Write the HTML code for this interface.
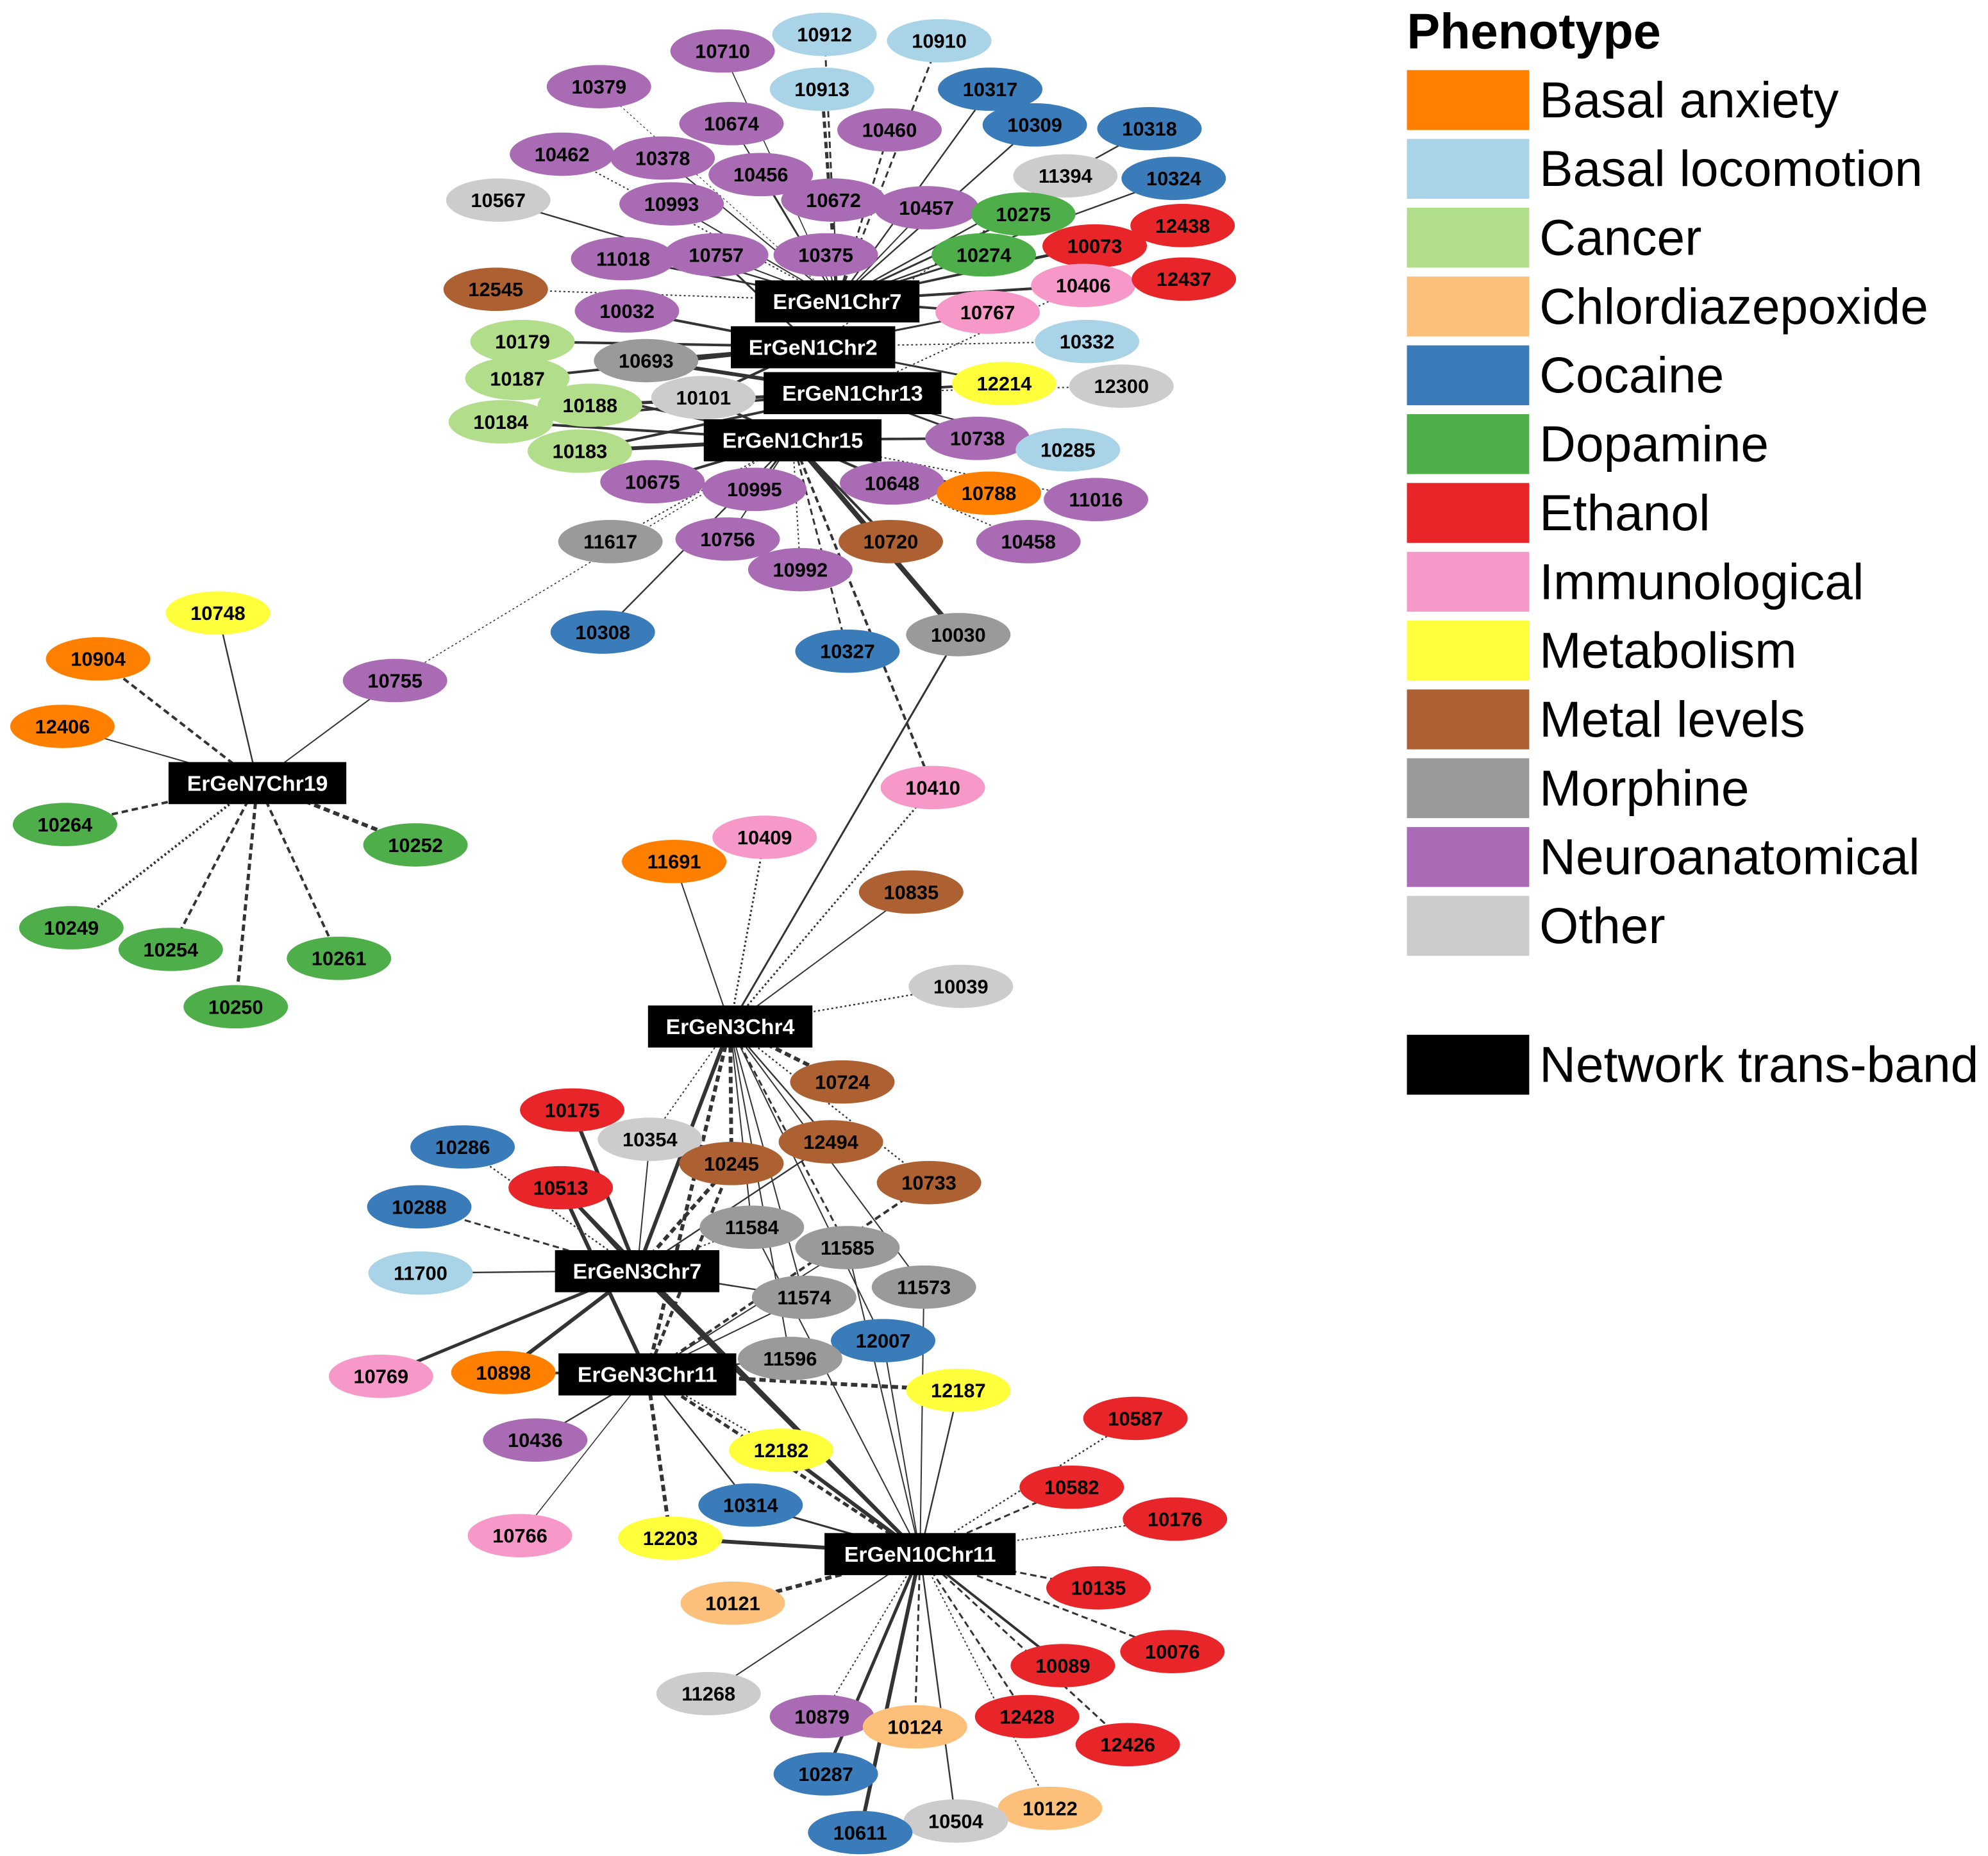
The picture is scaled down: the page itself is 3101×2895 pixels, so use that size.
<!DOCTYPE html>
<html><head><meta charset="utf-8">
<style>
html,body{margin:0;padding:0;background:#fff;}
svg{display:block;}
text{font-family:"Liberation Sans",Arial,sans-serif;}
</style></head>
<body>
<svg id="chart" width="3101" height="2895" viewBox="0 0 1560 1456.4" preserveAspectRatio="none" xmlns="http://www.w3.org/2000/svg">
<g id="edges"></g>
<g id="nodes"></g>
<g id="legend"></g>
</svg>
<script>
const phenotypes = ["Basal anxiety","Basal locomotion","Cancer","Chlordiazepoxide","Cocaine","Dopamine","Ethanol","Immunological","Metabolism","Metal levels","Morphine","Neuroanatomical","Other"];
const phenoColors = ["#ff8000","#a9d3e6","#b2dd8b","#fdc07a","#3a7cb9","#4eae4a","#e8262a","#f699c8","#ffff3c","#ad6132","#9a9a9a","#a96bb3","#cccccc"];
const phenoCodes = ["BA","BL","Ca","Ch","C","D","E","I","Me","ML","M","N","O"];

const hubNames = ["ErGeN1Chr7","ErGeN1Chr2","ErGeN1Chr13","ErGeN1Chr15","ErGeN7Chr19","ErGeN3Chr4","ErGeN3Chr7","ErGeN3Chr11","ErGeN10Chr11"];
const hubX = [657,638,669,622,202,573,500,508,722];
const hubY = [236,272,308,345,614,805,997,1078,1219];

const nodeIds = ["10710","10912","10910","10379","10913","10317","10674","10460","10309","10318","10462","10378","10456","11394","10324","10567","10993","10672","10457","10275","10073","12438","11018","10757","10375","10274","10406","12437","12545","10032","10767","10179","10332","10693","10187","12214","12300","10101","10188","10184","10738","10285","10183","10675","10995","10648","10788","11016","11617","10756","10720","10458","10992","10308","10030","10327","10748","10904","10755","12406","10264","10252","10249","10254","10261","10250","10410","10409","11691","10835","10039","10724","10175","10354","12494","10286","10245","10513","10733","10288","11584","11585","11700","11573","11574","12007","11596","10769","10898","12187","10587","10436","12182","10582","10314","10176","12203","10766","10135","10121","10076","10089","11268","10879","10124","12428","12426","10287","10122","10504","10611"];
const nodePheno = ["N","BL","BL","N","BL","C","N","N","C","C","N","N","N","O","C","O","N","N","N","D","E","E","N","N","N","D","I","E","ML","N","I","Ca","BL","M","Ca","Me","O","O","Ca","Ca","N","BL","Ca","N","N","N","BA","N","M","N","ML","N","N","C","M","C","Me","BA","N","BA","D","D","D","D","D","D","I","I","BA","ML","O","ML","E","O","ML","C","ML","E","ML","C","M","M","BL","M","M","C","M","I","BA","Me","E","N","Me","E","C","E","Me","I","E","Ch","E","E","O","N","Ch","E","E","C","Ch","O","C"];
const nodeX = [567,647,737,470,645,777,574,698,812,902,441,520,597,836,921,391,527,654,727,803,859,928,489,562,648,772,850,929,389,492,775,410,853,507,406,788,880,552,463,393,767,838,455,512,592,700,776,860,479,571,699,807,628,473,752,665,171,77,310,49,51,326,56,134,266,185,732,600,529,715,754,661,449,510,652,363,574,440,729,329,590,665,330,725,631,693,620,299,395,752,891,420,613,841,589,922,526,408,862,575,920,834,556,645,718,806,885,648,824,750,675];
const nodeY = [40,27,32,68,70,70,97,102,98,101,121,124,137,138,140,157,160,157,163,168,193,177,203,200,200,200,224,219,227,244,245,268,268,283,297,301,303,312,318,331,344,353,354,378,384,379,387,392,425,423,425,425,447,496,498,511,481,517,534,570,647,663,728,745,752,790,618,657,676,700,774,849,871,894,896,900,913,932,928,947,963,979,999,1010,1018,1052,1066,1080,1077,1091,1113,1130,1138,1167,1181,1192,1207,1205,1246,1258,1296,1307,1329,1347,1355,1347,1369,1392,1419,1429,1438];

// edges: source, target, style (s=solid,d=dashed,o=dotted), width
const edgeSrc = ["ErGeN1Chr7","ErGeN1Chr7","ErGeN1Chr7","ErGeN1Chr7","ErGeN1Chr7","ErGeN1Chr7","ErGeN1Chr7","ErGeN1Chr7","ErGeN1Chr7","ErGeN1Chr7","ErGeN1Chr7","ErGeN1Chr7","ErGeN1Chr7","ErGeN1Chr7","ErGeN1Chr7","ErGeN1Chr7","ErGeN1Chr7","ErGeN1Chr7","ErGeN1Chr7","ErGeN1Chr7","ErGeN1Chr7","ErGeN1Chr7","ErGeN1Chr7","ErGeN1Chr7","ErGeN1Chr7","ErGeN1Chr7","ErGeN1Chr7","ErGeN1Chr7","ErGeN1Chr7",
"ErGeN1Chr2","ErGeN1Chr2","ErGeN1Chr2","ErGeN1Chr2","ErGeN1Chr2","ErGeN1Chr2","ErGeN1Chr2","ErGeN1Chr2","ErGeN1Chr2","ErGeN1Chr2",
"ErGeN1Chr13","ErGeN1Chr13","ErGeN1Chr13","ErGeN1Chr13","ErGeN1Chr13","ErGeN1Chr13","ErGeN1Chr13","ErGeN1Chr13","ErGeN1Chr13",
"ErGeN1Chr15","ErGeN1Chr15","ErGeN1Chr15","ErGeN1Chr15","ErGeN1Chr15","ErGeN1Chr15","ErGeN1Chr15","ErGeN1Chr15","ErGeN1Chr15","ErGeN1Chr15","ErGeN1Chr15","ErGeN1Chr15","ErGeN1Chr15","ErGeN1Chr15","ErGeN1Chr15","ErGeN1Chr15","ErGeN1Chr15","ErGeN1Chr15","ErGeN1Chr15","ErGeN1Chr15",
"ErGeN7Chr19","ErGeN7Chr19","ErGeN7Chr19","ErGeN7Chr19","ErGeN7Chr19","ErGeN7Chr19","ErGeN7Chr19","ErGeN7Chr19","ErGeN7Chr19","ErGeN7Chr19",
"ErGeN3Chr4","ErGeN3Chr4","ErGeN3Chr4","ErGeN3Chr4","ErGeN3Chr4","ErGeN3Chr4","ErGeN3Chr4","ErGeN3Chr4","ErGeN3Chr4","ErGeN3Chr4","ErGeN3Chr4","ErGeN3Chr4","ErGeN3Chr4","ErGeN3Chr4","ErGeN3Chr4","ErGeN3Chr4","ErGeN3Chr4","ErGeN3Chr4","ErGeN3Chr4",
"ErGeN3Chr7","ErGeN3Chr7","ErGeN3Chr7","ErGeN3Chr7","ErGeN3Chr7","ErGeN3Chr7","ErGeN3Chr7","ErGeN3Chr7","ErGeN3Chr7","ErGeN3Chr7","ErGeN3Chr7","ErGeN3Chr7","ErGeN3Chr7",
"ErGeN3Chr11","ErGeN3Chr11","ErGeN3Chr11","ErGeN3Chr11","ErGeN3Chr11","ErGeN3Chr11","ErGeN3Chr11","ErGeN3Chr11","ErGeN3Chr11","ErGeN3Chr11","ErGeN3Chr11","ErGeN3Chr11","ErGeN3Chr11","ErGeN3Chr11",
"ErGeN10Chr11","ErGeN10Chr11","ErGeN10Chr11","ErGeN10Chr11","ErGeN10Chr11","ErGeN10Chr11","ErGeN10Chr11","ErGeN10Chr11","ErGeN10Chr11","ErGeN10Chr11","ErGeN10Chr11","ErGeN10Chr11","ErGeN10Chr11","ErGeN10Chr11","ErGeN10Chr11","ErGeN10Chr11","ErGeN10Chr11","ErGeN10Chr11","ErGeN10Chr11","ErGeN10Chr11","ErGeN10Chr11","ErGeN10Chr11","ErGeN10Chr11","ErGeN10Chr11","ErGeN10Chr11"];
const edgeTgt = ["10710","10379","10674","10460","10910","10912","10913","10317","10309","10318","10324","10456","10672","10457","10375","10757","11018","10993","10462","10378","10567","10275","10274","10073","12438","10406","12437","10767","12545",
"10032","10179","10693","10187","10101","10767","10332","12214","11394","10757",
"10188","10184","10693","12214","12300","10285","10738","10406","10183",
"10183","10675","10995","10648","10738","10788","11016","10720","10458","10992","10756","11617","10308","10030","10327","10410","10755","10184","10187","10101",
"10748","10904","12406","10264","10252","10249","10254","10261","10250","10755",
"10410","10409","11691","10835","10039","10724","10030","10354","12494","10245","11584","11585","11574","11573","12007","11596","ErGeN3Chr7","ErGeN3Chr11","10733",
"10175","10354","10286","10513","10288","11700","10769","10898","11584","11574","10245","12494","ErGeN10Chr11",
"10513","10436","10766","12203","12182","10314","12187","11596","11574","11585","10245","ErGeN10Chr11","10898","10733",
"10587","10582","10176","10135","10076","10089","12428","12426","10122","10504","10124","10611","10287","10879","11268","10121","12203","10314","12187","11573","12007","11585","10513","12182","11584"];
const edgeStyle = ["s","o","s","d","d","d","d","s","s","s","s","s","s","s","s","s","s","s","o","s","s","s","s","s","s","s","s","s","o",
"s","s","s","s","s","s","o","s","o","s",
"s","s","s","s","o","s","s","o","s",
"s","s","s","s","s","s","o","s","o","o","s","o","s","s","d","d","o","s","s","s",
"s","d","s","d","d","o","d","d","d","s",
"o","o","s","s","o","d","s","o","s","d","s","d","s","s","s","s","s","d","o",
"s","s","o","s","d","s","s","s","o","s","d","s","s",
"s","s","s","d","o","s","d","s","s","s","d","d","s","d",
"o","d","o","d","d","s","d","d","o","s","d","s","s","o","s","d","s","s","s","s","s","s","s","s","s"];
const edgeWidth = [0.8,0.6,1,1.5,1.5,1.5,2.5,1.2,1.2,1.2,1.2,1,1,1,1,1,1.5,1,1,1,1.2,1.5,1.5,1.5,1.5,2,2,2,1,
2,2,2.5,2,2,1.5,1,1.5,1,1.5,
2.5,2,3,2,1,1.2,1.5,1,2,
3,2,1.5,2,2,1.5,1,2,1,1,1,1,1.2,4,1.5,2,0.8,2,2,2,
1.2,2,1,2,3,2,2,2,2.5,1,
1.5,1.5,1,1,1.2,3,1.5,1,1.2,3,1,1.5,1,1,1,1,3,3,1.2,
3,1,1.2,2,1.5,1.2,2.5,3,1,1.2,3,1.2,3,
3,1.2,0.8,3,1.2,1.2,3,1.2,1,1,2.5,2.5,2,2,
1.2,1.5,1,1.5,1.5,2,1.5,1.5,1,1.2,1.5,3,2.5,1,1,3,3,1.5,1.2,1,1,1,2.5,3,1];

const NS = "http://www.w3.org/2000/svg";
function hubWidth(name){ return name.length*10.5+24; }
function pos(id){
  const h = hubNames.indexOf(id);
  if(h>=0) return [hubX[h],hubY[h]];
  const i = nodeIds.indexOf(id);
  return [nodeX[i],nodeY[i]];
}
const eg = document.getElementById('edges');
for(let k=0;k<edgeSrc.length;k++){
  const a=pos(edgeSrc[k]), b=pos(edgeTgt[k]);
  const l=document.createElementNS(NS,'line');
  
  
  l.setAttribute('x1',a[0]);l.setAttribute('y1',a[1]);l.setAttribute('x2',b[0]);l.setAttribute('y2',b[1]);
  l.setAttribute('stroke','#333');
  l.setAttribute('stroke-width',edgeWidth[k]);
  if(edgeStyle[k]==='d') l.setAttribute('stroke-dasharray','5,3');
  if(edgeStyle[k]==='o') l.setAttribute('stroke-dasharray','1.5,2');
  eg.appendChild(l);
}
const ng = document.getElementById('nodes');
for(let i=0;i<nodeIds.length;i++){
  const g=document.createElementNS(NS,'g');
  
  
  const e=document.createElementNS(NS,'ellipse');
  e.setAttribute('cx',nodeX[i]);e.setAttribute('cy',nodeY[i]);e.setAttribute('rx',41);e.setAttribute('ry',17);
  e.setAttribute('fill',phenoColors[phenoCodes.indexOf(nodePheno[i])]);
  g.appendChild(e);
  const t=document.createElementNS(NS,'text');
  t.setAttribute('x',nodeX[i]);t.setAttribute('y',nodeY[i]+5.5);
  t.setAttribute('text-anchor','middle');t.setAttribute('font-size','15.5');t.setAttribute('font-weight','bold');
  t.textContent=nodeIds[i];
  g.appendChild(t);
  ng.appendChild(g);
}
for(let i=0;i<hubNames.length;i++){
  const g=document.createElementNS(NS,'g');
  
  
  const w=hubWidth(hubNames[i]);
  const r=document.createElementNS(NS,'rect');
  r.setAttribute('x',hubX[i]-w/2);r.setAttribute('y',hubY[i]-16);r.setAttribute('width',w);r.setAttribute('height',33);
  r.setAttribute('fill','#000');
  g.appendChild(r);
  const t=document.createElementNS(NS,'text');
  t.setAttribute('x',hubX[i]);t.setAttribute('y',hubY[i]+6.5);
  t.setAttribute('text-anchor','middle');t.setAttribute('font-size','17');t.setAttribute('font-weight','bold');t.setAttribute('fill','#fff');
  t.textContent=hubNames[i];
  g.appendChild(t);
  ng.appendChild(g);
}
const lg=document.getElementById('legend');
const title=document.createElementNS(NS,'text');


title.setAttribute('x',1104);title.setAttribute('y',38);title.setAttribute('font-size','39');title.setAttribute('font-weight','bold');
title.textContent='Phenotype';
lg.appendChild(title);
const legLabels = phenotypes.concat(["Network trans-band"]);
const legColors = phenoColors.concat(["#000"]);
for(let i=0;i<legLabels.length;i++){
  const y = i<13 ? 55+i*54 : 812;
  const g=document.createElementNS(NS,'g');
  
  
  const r=document.createElementNS(NS,'rect');
  r.setAttribute('x',1104);r.setAttribute('y',y);r.setAttribute('width',96);r.setAttribute('height',47);
  r.setAttribute('fill',legColors[i]);
  g.appendChild(r);
  const t=document.createElementNS(NS,'text');
  t.setAttribute('x',1208);t.setAttribute('y',y+37);t.setAttribute('font-size','39.5');
  t.textContent=legLabels[i];
  g.appendChild(t);
  lg.appendChild(g);
}
</script>
</body></html>
